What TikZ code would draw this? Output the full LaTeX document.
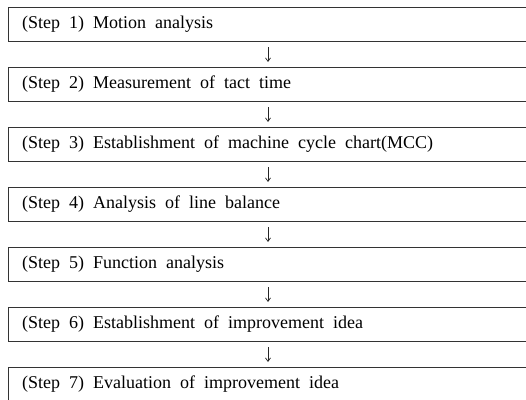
\documentclass[tikz,border=0pt]{standalone}
\usepackage{fontspec}
\setmainfont{Liberation Serif}[WordSpace=2]
\usetikzlibrary{arrows.meta}
\begin{document}
\begin{tikzpicture}[x=1pt,y=-1pt,
  stepbox/.style={draw=black!80, line width=1pt, rectangle, minimum width=524pt, minimum height=34pt, anchor=north west, inner sep=0pt},
  lbl/.style={anchor=west, inner sep=0pt, font=\fontsize{18}{20}\selectfont},
  arr/.style={draw=black!85, line width=0.7pt, -{Straight Barb[length=3.5pt,width=5pt]}}]
\useasboundingbox (0,0) rectangle (526,399);
\foreach \i/\t in {1/{(Step 1) Motion analysis},
                   2/{(Step 2) Measurement of tact time},
                   3/{(Step 3) Establishment of machine cycle chart(MCC)},
                   4/{(Step 4) Analysis of line balance},
                   5/{(Step 5) Function analysis},
                   6/{(Step 6) Establishment of improvement idea},
                   7/{(Step 7) Evaluation of improvement idea}}{
  \node[stepbox] (b\i) at (8,{7+60*(\i-1)}) {};
  \node[lbl] (t\i) at ([xshift=14pt]b\i.west) {\t};
}
\coordinate (xa) at (268,0);
\foreach \i [evaluate=\i as \j using int(\i+1)] in {1,...,6}{
  \draw[arr] ([yshift=-5pt]b\i.south -| xa) -- ([yshift=5pt]b\j.north -| xa);
}
\end{tikzpicture}
\end{document}
